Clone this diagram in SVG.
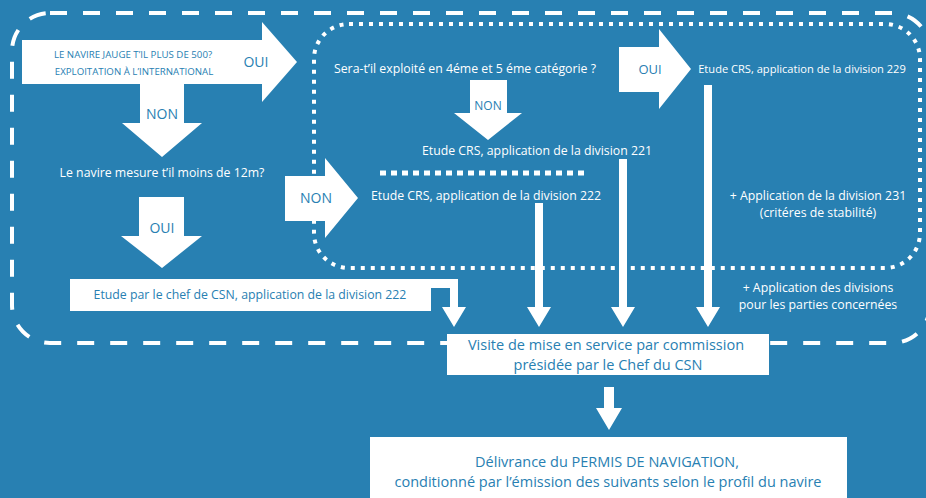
<svg xmlns="http://www.w3.org/2000/svg" width="926" height="498" viewBox="0 0 926 498">
<style>
.w{fill:#ffffff}
.tb{font-family:"Open Sans","Noto Sans",sans-serif;fill:#2880b2;text-anchor:middle}
.tw{font-family:"Open Sans","Noto Sans",sans-serif;fill:#ffffff;text-anchor:middle}
.s{font-size:12.3px}
.l{font-size:14.5px}
.dash{fill:none;stroke:#ffffff;stroke-width:4;stroke-dasharray:17 16}
.dot{fill:none;stroke:#ffffff;stroke-width:4;stroke-dasharray:4 6}
.dot2{fill:none;stroke:#ffffff;stroke-width:5;stroke-dasharray:6 5}
</style>
<rect x="0" y="0" width="926" height="498" fill="#2880b2"/>
<g id="frames">
<rect class="dash" x="12" y="13" width="918" height="330" rx="38"/>
<rect class="dot" x="314" y="24" width="606" height="244" rx="35"/>
<line class="dot2" x1="380" y1="173" x2="586" y2="173"/>
</g>
<g id="q1">
<polygon class="w" points="22,40 262,40 262,22 297,62 262,102 262,84 184,84 184,123 202,123 162,157 122,123 140,123 140,84 22,84"/>
<text class="tb" x="133" y="58" font-size="9.7">LE NAVIRE JAUGE T’IL PLUS DE 500?</text>
<text class="tb" x="134" y="75" font-size="9.7">EXPLOITATION À L’INTERNATIONAL</text>
<text class="tb" x="256" y="67" font-size="14">OUI</text>
<text class="tb" x="162" y="119" font-size="14">NON</text>
</g>
<g id="q2">
<text class="tw s" x="162" y="177">Le navire mesure t’il moins de 12m?</text>
</g>
<g id="q2oui">
<polygon class="w" points="139,197 184,197 184,236 202,236 162,268 121,236 139,236"/>
<text class="tb" x="162" y="233" font-size="14">OUI</text>
</g>
<g id="csn">
<rect class="w" x="70" y="279" width="361" height="32"/>
<text class="tb s" x="250" y="299">Etude par le chef de CSN, application de la division 222</text>
</g>
<g id="q2non">
<polygon class="w" points="285,176 325,176 325,158 358,198 325,238 325,221 285,221"/>
<text class="tb" x="316" y="203" font-size="14">NON</text>
</g>
<g id="div222">
<text class="tw s" x="486" y="200">Etude CRS, application de la division 222</text>
</g>
<g id="q3">
<text class="tw s" x="465" y="73">Sera-t’il exploité en 4éme et 5 éme catégorie ?</text>
</g>
<g id="q3non">
<polygon class="w" points="470,80 507,80 507,113 522,113 488,140 454,113 470,113"/>
<text class="tb" x="488" y="110" font-size="12">NON</text>
</g>
<g id="div221">
<text class="tw s" x="537" y="155">Etude CRS, application de la division 221</text>
</g>
<g id="q3oui">
<polygon class="w" points="619,47 659,47 659,29 691,69 659,109 659,92 619,92"/>
<text class="tb" x="650" y="74" font-size="13">OUI</text>
</g>
<g id="div229">
<text class="tw" x="802" y="73" font-size="11.1">Etude CRS, application de la division 229</text>
</g>
<g id="div231">
<text class="tw s" x="818" y="200">+ Application de la division 231</text>
<text class="tw s" x="818" y="217">(critéres de stabilité)</text>
</g>
<g id="divparts">
<text class="tw s" x="818" y="292">+ Application des divisions</text>
<text class="tw s" x="818" y="309">pour les parties concernées</text>
</g>
<g id="connectors">
<polygon class="w" points="431,279 458,279 458,307 466,307 454,327 442,307 450,307 450,288 431,288"/>
<polygon class="w" points="535,203 543,203 543,307 551,307 539,327 527,307 535,307"/>
<polygon class="w" points="619,159 627,159 627,307 635,307 623,327 611,307 619,307"/>
<polygon class="w" points="704,85 712,85 712,307 720,307 708,327 696,307 704,307"/>
<polygon class="w" points="604,387 614,387 614,408 622,408 609,430 596,408 604,408"/>
</g>
<g id="visite">
<rect class="w" x="447" y="334" width="322" height="41"/>
<text class="tb l" x="606" y="350">Visite de mise en service par commission</text>
<text class="tb l" x="608" y="370">présidée par le Chef du CSN</text>
</g>
<g id="permis">
<rect class="w" x="370" y="437" width="477" height="70"/>
<text class="tb l" x="607" y="467">Délivrance du PERMIS DE NAVIGATION,</text>
<text class="tb l" x="608" y="487">conditionné par l’émission des suivants selon le profil du navire</text>
</g>
</svg>
